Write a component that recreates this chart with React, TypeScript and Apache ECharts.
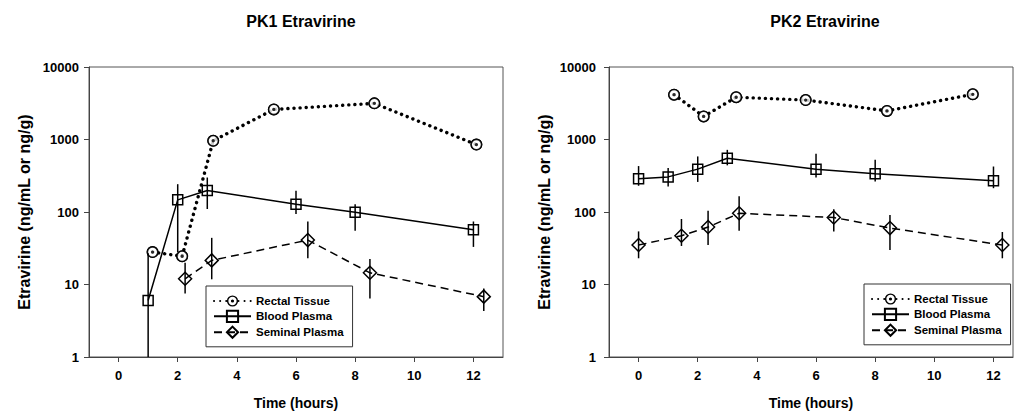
import React, { useEffect, useRef } from "react";
import * as echarts from "echarts";

// ---------- Data ----------
const seriesNames = ["Rectal Tissue", "Blood Plasma", "Seminal Plasma"];
const xTickValues = [0, 2, 4, 6, 8, 10, 12];

// PK1
const pk1RectalX = [1.15, 2.15, 3.2, 5.25, 8.65, 12.1];
const pk1RectalY = [28, 24.5, 960, 2600, 3150, 850];

const pk1BloodX = [1, 2, 3, 6, 8, 12];
const pk1BloodY = [6, 147, 198, 128, 99, 57];
const pk1BloodLo = [0.5, 28, 110, 94, 55, 33];
const pk1BloodHi = [27, 242, 299, 196, 128, 74];

const pk1SeminalX = [2.25, 3.15, 6.4, 8.5, 12.35];
const pk1SeminalY = [12, 21.5, 41, 14.5, 6.8];
const pk1SeminalLo = [7.5, 11.8, 23, 6.4, 4.3];
const pk1SeminalHi = [20, 44, 74, 22.5, 8.8];

// PK2
const pk2RectalX = [1.2, 2.2, 3.3, 5.65, 8.4, 11.3];
const pk2RectalY = [4150, 2080, 3830, 3500, 2480, 4200];

const pk2BloodX = [0, 1, 2, 3, 6, 8, 12];
const pk2BloodY = [287, 305, 390, 550, 390, 337, 269];
const pk2BloodLo = [230, 224, 260, 440, 300, 263, 213];
const pk2BloodHi = [430, 405, 584, 720, 637, 525, 424];

const pk2SeminalX = [0, 1.45, 2.35, 3.4, 6.6, 8.5, 12.3];
const pk2SeminalY = [35, 47, 62, 96, 84, 60, 35];
const pk2SeminalLo = [23, 34, 35, 55, 54, 30, 23];
const pk2SeminalHi = [54, 80, 104, 165, 109, 91, 53];

// ---------- Styling ----------
const FONT = "'Liberation Sans', Arial, Helvetica, sans-serif";
const AXIS_COLOR = "#444";
const RING_DOT =
  "path://M50,0A50,50,0,1,1,50,100A50,50,0,1,1,50,0Z" +
  "M50,13A37,37,0,1,0,50,87A37,37,0,1,0,50,13Z" +
  "M50,36A14,14,0,1,1,50,64A14,14,0,1,1,50,36Z";

const zip2 = (xs: number[], ys: number[]) => xs.map((x, i) => [x, ys[i]]);
const zip3 = (xs: number[], lo: number[], hi: number[]) =>
  xs.map((x, i) => [x, lo[i], hi[i]]);

function makeX(gridIndex: number, max: number) {
  return {
    type: "value",
    gridIndex,
    min: -1,
    max,
    name: "Time (hours)",
    nameLocation: "middle",
    nameGap: 39,
    nameTextStyle: { fontFamily: FONT, fontWeight: "bold", fontSize: 14, color: "#000" },
    axisLine: { show: true, onZero: false, lineStyle: { color: AXIS_COLOR, width: 1 } },
    axisTick: {
      show: true,
      inside: false,
      length: 5,
      customValues: xTickValues,
      lineStyle: { color: AXIS_COLOR },
    },
    axisLabel: {
      customValues: xTickValues,
      margin: 12,
      fontFamily: FONT,
      fontWeight: "bold",
      fontSize: 13,
      color: "#000",
    },
    splitLine: { show: false },
  };
}

function makeY(gridIndex: number, labelMargin: number) {
  return {
    type: "log",
    logBase: 10,
    gridIndex,
    min: 1,
    max: 10000,
    name: "Etravirine (ng/mL or ng/g)",
    nameLocation: "middle",
    nameGap: 57,
    nameTextStyle: { fontFamily: FONT, fontWeight: "bold", fontSize: 16, color: "#000" },
    axisLine: { show: true, onZero: false, lineStyle: { color: AXIS_COLOR, width: 1 } },
    axisTick: { show: true, inside: false, length: 5, lineStyle: { color: AXIS_COLOR } },
    minorTick: { show: false },
    axisLabel: {
      margin: labelMargin,
      fontFamily: FONT,
      fontWeight: "bold",
      fontSize: 13,
      color: "#000",
      formatter: (v: number) => String(Math.round(v)),
    },
    splitLine: { show: false },
  };
}

function errorBars(idx: number, data: number[][]) {
  return {
    type: "custom",
    name: "err",
    xAxisIndex: idx,
    yAxisIndex: idx,
    z: 5,
    silent: true,
    data,
    encode: { x: 0, y: [1, 2] },
    renderItem: (params: any, api: any) => {
      const x = api.value(0);
      const lo = Math.max(api.value(1), 1);
      const hi = api.value(2);
      const p1 = api.coord([x, lo]);
      const p2 = api.coord([x, hi]);
      return {
        type: "line",
        shape: { x1: p1[0], y1: p1[1], x2: p2[0], y2: p2[1] },
        style: { stroke: "#000", lineWidth: 1.5 },
      };
    },
  };
}

function rectalSeries(idx: number, xs: number[], ys: number[]) {
  const data = zip2(xs, ys);
  return [
    {
      type: "line",
      name: seriesNames[0],
      xAxisIndex: idx,
      yAxisIndex: idx,
      data,
      z: 2,
      symbol: RING_DOT,
      symbolSize: 12,
      showAllSymbol: true,
      itemStyle: { color: "#000" },
      lineStyle: { color: "#000", width: 3.4, type: [0.1, 6], cap: "round" },
    },
    {
      type: "scatter",
      name: "rectal-fill",
      xAxisIndex: idx,
      yAxisIndex: idx,
      data,
      z: 3,
      silent: true,
      symbol: "circle",
      symbolSize: 10,
      itemStyle: { color: "#fff" },
    },
    {
      type: "scatter",
      name: "rectal-marker",
      xAxisIndex: idx,
      yAxisIndex: idx,
      data,
      z: 4,
      silent: true,
      symbol: RING_DOT,
      symbolSize: 12,
      itemStyle: { color: "#000" },
    },
  ];
}

function bloodSeries(idx: number, xs: number[], ys: number[], lo: number[], hi: number[]) {
  return [
    {
      type: "line",
      name: seriesNames[1],
      xAxisIndex: idx,
      yAxisIndex: idx,
      data: zip2(xs, ys),
      z: 2,
      symbol: "rect",
      symbolSize: 10,
      showAllSymbol: true,
      itemStyle: { color: "rgba(0,0,0,0)", borderColor: "#000", borderWidth: 1.5 },
      lineStyle: { color: "#000", width: 1.5, type: "solid" },
    },
    errorBars(idx, zip3(xs, lo, hi)),
  ];
}

function seminalSeries(idx: number, xs: number[], ys: number[], lo: number[], hi: number[]) {
  return [
    {
      type: "line",
      name: seriesNames[2],
      xAxisIndex: idx,
      yAxisIndex: idx,
      data: zip2(xs, ys),
      z: 2,
      symbol: "diamond",
      symbolSize: 13,
      showAllSymbol: true,
      itemStyle: { color: "rgba(0,0,0,0)", borderColor: "#000", borderWidth: 1.5 },
      lineStyle: { color: "#000", width: 1.5, type: [8, 5] },
    },
    errorBars(idx, zip3(xs, lo, hi)),
  ];
}

function makeLegend(left: number, top: number) {
  return {
    show: true,
    data: seriesNames,
    orient: "vertical",
    left,
    top,
    backgroundColor: "#fff",
    borderColor: "#333",
    borderWidth: 1,
    borderRadius: 0,
    padding: [9, 9, 8, 7],
    itemGap: 2.7,
    itemWidth: 37,
    itemHeight: 14,
    selectedMode: false,
    textStyle: { fontFamily: FONT, fontWeight: "bold", fontSize: 11.5, color: "#000" },
  };
}

export default function App() {
  const ref = useRef<HTMLDivElement>(null);

  useEffect(() => {
    if (!ref.current) return;
    const chart = echarts.init(ref.current, null, { renderer: "svg" });
    const option: any = {
      animation: false,
      backgroundColor: "#fff",
      textStyle: { fontFamily: FONT },
      title: [
        {
          text: "PK1 Etravirine",
          left: 296,
          top: 8,
          textAlign: "center",
          textStyle: { fontFamily: FONT, fontWeight: "bold", fontSize: 16, color: "#000" },
        },
        {
          text: "PK2 Etravirine",
          left: 820,
          top: 8,
          textAlign: "center",
          textStyle: { fontFamily: FONT, fontWeight: "bold", fontSize: 16, color: "#000" },
        },
      ],
      grid: [
        { left: 89, top: 67, width: 414, height: 290, show: true, borderColor: "#555", borderWidth: 1, backgroundColor: "transparent" },
        { left: 609, top: 67, width: 404, height: 290, show: true, borderColor: "#555", borderWidth: 1, backgroundColor: "transparent" },
      ],
      xAxis: [makeX(0, 13), makeX(1, 12.66)],
      yAxis: [makeY(0, 10), makeY(1, 13)],
      legend: [makeLegend(206, 286), makeLegend(864, 284)],
      series: [
        ...rectalSeries(0, pk1RectalX, pk1RectalY),
        ...bloodSeries(0, pk1BloodX, pk1BloodY, pk1BloodLo, pk1BloodHi),
        ...seminalSeries(0, pk1SeminalX, pk1SeminalY, pk1SeminalLo, pk1SeminalHi),
        ...rectalSeries(1, pk2RectalX, pk2RectalY),
        ...bloodSeries(1, pk2BloodX, pk2BloodY, pk2BloodLo, pk2BloodHi),
        ...seminalSeries(1, pk2SeminalX, pk2SeminalY, pk2SeminalLo, pk2SeminalHi),
      ],
    };
    chart.setOption(option);
    return () => chart.dispose();
  }, []);

  return (
    <div
      ref={ref}
      style={{ position: "absolute", left: 0, top: 0, width: 1015, height: 418, background: "#fff" }}
    />
  );
}
